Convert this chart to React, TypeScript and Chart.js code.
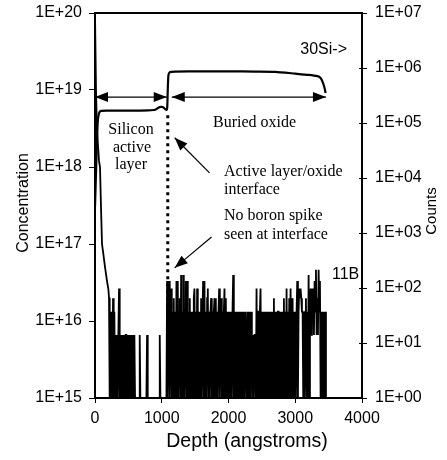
import React, { useEffect, useRef } from "react";
import { Chart, registerables } from "chart.js";

Chart.register(...registerables);

// Axis ticks
const depthTicks = [0, 1000, 2000, 3000, 4000];
const concExponents = [15, 16, 17, 18, 19, 20];
const countExponents = [0, 1, 2, 3, 4, 5, 6, 7];

// 30Si counts versus depth (right axis)
const siDepth = [0, 20, 40, 60, 90, 200, 500, 800, 900, 950, 990, 1020, 1050, 1070, 1082, 1090, 1100, 1120, 1200, 1600, 2000, 2400, 2700, 3000, 3200, 3330, 3380, 3410, 3435, 3455];
const siCounts = [3e3, 2e4, 1e5, 1.5e5, 1.66e5, 1.68e5, 1.68e5, 1.7e5, 1.74e5, 1.9e5, 1.96e5, 1.94e5, 1.8e5, 1.72e5, 1.9e5, 4e5, 7.4e5, 8.4e5, 8.6e5, 8.7e5, 8.7e5, 8.6e5, 8.5e5, 7.9e5, 7.5e5, 7.1e5, 6.6e5, 5.6e5, 4.5e5, 3.5e5];

// 11B concentration near the surface (left axis)
const boronSurfaceDepth = [0, 15, 30, 60, 75, 90, 105, 120, 150, 180, 200, 210];
const boronSurfaceConc = [1e20, 1e19, 3e18, 1.2e18, 1e18, 3e17, 1e17, 8e16, 5e16, 3.3e16, 2.6e16, 2e16];

// 11B counts, one digit per 10 Å step from 220 Å to 3460 Å (20 steps per row)
const boronNoiseStart = 220;
const boronNoiseStep = 10;
const boronNoiseCounts = [
  "02020302010101401010",
  "10101101010101010100",
  "00000100000000001000",
  "00000000000000010000",
  "00000050250340203020",
  "50502306020602505020",
  "30202034020402020302",
  "50502034020230202303",
  "02024023020240302020",
  "20202602020202020202",
  "02022020202021010110",
  "40220240202020202020",
  "20202030202022020202",
  "03020402030402302020",
  "25024343220202302060",
  "24142415271317250202",
  "02020",
].join("");
const concPerCount = 6.6e15;
const concFloor = 1e15;

// Active layer / buried oxide interface
const interfaceDepth = [1090, 1090];
const interfaceConc = [4.7e18, 9.4e15];

// Extent arrows
const spanConc = 8.1e18;
const activeLayerSpan = [0, 1075];
const buriedOxideSpan = [1150, 3460];

// Callout arrows: [depth, conc] tail -> head
const interfaceCallout = [[1716, 8.4e17], [1194, 2.4e18]];
const spikeCallout = [[1746, 1.23e17], [1194, 4.9e16]];

const SANS = "'Liberation Sans', Arial, sans-serif";
const SERIF = "'Liberation Serif', 'Times New Roman', serif";

const fmtExp = (v: number) => {
  const e = Math.round(Math.log10(v));
  return "1E+" + String(e).padStart(2, "0");
};

function drawArrow(ctx: CanvasRenderingContext2D, x1: number, y1: number, x2: number, y2: number, both: boolean) {
  const head = (tx: number, ty: number, fx: number, fy: number) => {
    const a = Math.atan2(ty - fy, tx - fx);
    const len = 13;
    const hw = 5;
    ctx.beginPath();
    ctx.moveTo(tx, ty);
    ctx.lineTo(tx - len * Math.cos(a) + hw * Math.sin(a), ty - len * Math.sin(a) - hw * Math.cos(a));
    ctx.lineTo(tx - len * Math.cos(a) - hw * Math.sin(a), ty - len * Math.sin(a) + hw * Math.cos(a));
    ctx.closePath();
    ctx.fill();
  };
  ctx.beginPath();
  ctx.moveTo(x1, y1);
  ctx.lineTo(x2, y2);
  ctx.stroke();
  head(x2, y2, x1, y1);
  if (both) head(x1, y1, x2, y2);
}

const annotations = {
  id: "annotations",
  afterDraw(chart: any) {
    const { ctx, chartArea: a, scales } = chart;
    const sx = scales.x;
    const sy = scales.y;
    const sy2 = scales.y2;
    ctx.save();
    ctx.strokeStyle = "#000";
    ctx.fillStyle = "#000";

    // plot frame
    ctx.lineWidth = 2;
    ctx.strokeRect(a.left, a.top, a.right - a.left, a.bottom - a.top);

    // right-axis ticks crossing the axis
    ctx.lineWidth = 1;
    sy2.ticks.forEach((t: any) => {
      const y = Math.round(sy2.getPixelForValue(t.value)) + 0.5;
      ctx.beginPath();
      ctx.moveTo(a.right - 3, y);
      ctx.lineTo(a.right + 5, y);
      ctx.stroke();
    });

    // extent arrows
    ctx.lineWidth = 1.2;
    const ya = sy.getPixelForValue(spanConc);
    drawArrow(ctx, sx.getPixelForValue(activeLayerSpan[0]), ya, sx.getPixelForValue(activeLayerSpan[1]), ya, true);
    drawArrow(ctx, sx.getPixelForValue(buriedOxideSpan[0]), ya, sx.getPixelForValue(buriedOxideSpan[1]), ya, true);

    // callouts
    [interfaceCallout, spikeCallout].forEach(([t, h]) => {
      drawArrow(ctx, sx.getPixelForValue(t[0]), sy.getPixelForValue(t[1]), sx.getPixelForValue(h[0]), sy.getPixelForValue(h[1]), false);
    });

    // serif annotations
    ctx.font = `16px ${SERIF}`;
    ctx.textBaseline = "alphabetic";
    ctx.textAlign = "center";
    ctx.fillText("Silicon", 131, 134);
    ctx.fillText("active", 132, 152);
    ctx.fillText("layer", 131, 169);
    ctx.textAlign = "left";
    ctx.fillText("Buried oxide", 213, 127);
    ctx.fillText("Active layer/oxide", 224, 176);
    ctx.fillText("interface", 224, 194);
    ctx.fillText("No boron spike", 224, 220);
    ctx.fillText("seen at interface", 224, 239);

    // series labels
    ctx.font = `16px ${SANS}`;
    ctx.textAlign = "right";
    ctx.fillText("30Si->", 347, 54);
    ctx.textAlign = "left";
    ctx.fillText("11B", 332, 279);

    // axis titles
    ctx.textAlign = "center";
    ctx.textBaseline = "middle";
    ctx.font = `19.5px ${SANS}`;
    ctx.fillText("Depth (angstroms)", 247, 442);
    ctx.font = `16px ${SANS}`;
    ctx.save();
    ctx.translate(24, 203);
    ctx.rotate(-Math.PI / 2);
    ctx.fillText("Concentration", 0, 0);
    ctx.restore();
    ctx.save();
    ctx.translate(432, 211);
    ctx.rotate(-Math.PI / 2);
    ctx.font = `15px ${SANS}`;
    ctx.fillText("Counts", 0, 0);
    ctx.restore();

    ctx.restore();
  },
};

// fixed box sizes so the plot area lands at x 95..362, y 13..398
const fixBox = (w: number | null, h: number | null) => (s: any) => {
  if (w !== null) s.width = w;
  if (h !== null) s.height = h;
  s.paddingTop = 0;
  s.paddingBottom = 0;
  s.paddingLeft = 0;
  s.paddingRight = 0;
};

export default function App() {
  const ref = useRef<HTMLCanvasElement | null>(null);

  useEffect(() => {
    if (!ref.current) return;

    const boronPoints = boronSurfaceDepth.map((d, i) => ({ x: d, y: boronSurfaceConc[i] }));
    for (let i = 0; i < boronNoiseCounts.length; i++) {
      const c = Number(boronNoiseCounts[i]);
      boronPoints.push({ x: boronNoiseStart + i * boronNoiseStep, y: c > 0 ? c * concPerCount : concFloor });
    }
    const siPoints = siDepth.map((d, i) => ({ x: d, y: siCounts[i] }));
    const interfacePoints = interfaceDepth.map((d, i) => ({ x: d, y: interfaceConc[i] }));

    const tickFont = { family: SANS, size: 16 };

    const chart = new Chart(ref.current, {
      type: "line",
      data: {
        datasets: [
          {
            label: "11B",
            data: boronPoints,
            yAxisID: "y",
            borderColor: "#000",
            borderWidth: 1.8,
            pointRadius: 0,
            tension: 0,
          },
          {
            label: "30Si",
            data: siPoints,
            yAxisID: "y2",
            borderColor: "#000",
            borderWidth: 2.2,
            pointRadius: 0,
            tension: 0.2,
          },
          {
            label: "interface",
            data: interfacePoints,
            yAxisID: "y",
            borderColor: "#000",
            borderWidth: 3,
            borderDash: [3, 4],
            borderCapStyle: "butt",
            pointRadius: 0,
          },
        ],
      },
      options: {
        animation: false,
        responsive: true,
        maintainAspectRatio: false,
        layout: { padding: { top: 13, left: 0, right: 0, bottom: 0 } },
        plugins: { legend: { display: false }, tooltip: { enabled: false } },
        scales: {
          x: {
            type: "linear",
            min: 0,
            max: 4000,
            afterBuildTicks: (s: any) => {
              s.ticks = depthTicks.map((v) => ({ value: v }));
            },
            ticks: { font: tickFont, color: "#000", padding: 6, maxRotation: 0, callback: (v: any) => String(v) },
            grid: { drawOnChartArea: false, color: "#000", tickLength: 5, lineWidth: 1 },
            border: { display: false },
            afterFit: fixBox(null, 62),
          },
          y: {
            type: "logarithmic",
            position: "left",
            min: 1e15,
            max: 1e20,
            afterBuildTicks: (s: any) => {
              s.ticks = concExponents.map((e) => ({ value: Math.pow(10, e) }));
            },
            ticks: { font: tickFont, color: "#000", padding: 7, callback: (v: any) => fmtExp(Number(v)) },
            grid: { drawOnChartArea: false, color: "#000", tickLength: 6, lineWidth: 1 },
            border: { display: false },
            afterFit: fixBox(95, null),
          },
          y2: {
            type: "logarithmic",
            position: "right",
            min: 1,
            max: 1e7,
            afterBuildTicks: (s: any) => {
              s.ticks = countExponents.map((e) => ({ value: Math.pow(10, e) }));
            },
            ticks: { font: tickFont, color: "#000", padding: 13, callback: (v: any) => fmtExp(Number(v)) },
            grid: { drawOnChartArea: false, drawTicks: false },
            border: { display: false },
            afterFit: fixBox(85, null),
          },
        },
      },
      plugins: [annotations],
    });

    return () => chart.destroy();
  }, []);

  return (
    <div style={{ position: "absolute", left: 0, top: 0, width: 447, height: 460, background: "#fff" }}>
      <canvas ref={ref} />
    </div>
  );
}
